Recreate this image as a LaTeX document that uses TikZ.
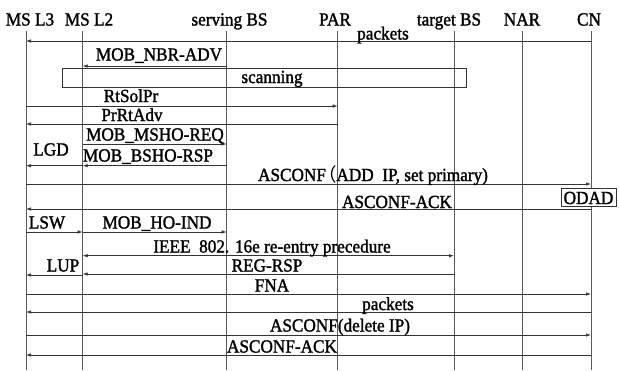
\documentclass[tikz,border=0pt]{standalone}
\usepackage{fontspec}
\setmainfont{Liberation Serif}[FakeBold=1.5,FakeStretch=0.93]
\newfontfamily\cjk{Noto Sans CJK SC}
\usetikzlibrary{arrows.meta}
\begin{document}
\begin{tikzpicture}[x=1pt,y=-1pt,
  font=\fontsize{18.5}{21}\selectfont,
  life/.style={draw=black!65, line width=0.7pt},
  msg/.style={draw=black!80, line width=0.7pt, -{Latex[length=5pt,width=3.5pt]}},
  dmsg/.style={draw=black!80, line width=0.7pt, {Latex[length=5pt,width=3.5pt]}-{Latex[length=5pt,width=3.5pt]}},
  lbl/.style={anchor=base, inner sep=0pt},
  boxed/.style={draw=black!80, line width=0.7pt, inner sep=0pt}]
\useasboundingbox (0,0) rectangle (619,370);
% lifelines
\coordinate (l3) at (26,31);   \coordinate (l3b) at (26,370);
\coordinate (l2) at (82.7,31); \coordinate (l2b) at (82.7,370);
\coordinate (sbs) at (226.7,31); \coordinate (sbsb) at (226.7,370);
\coordinate (par) at (337.7,31); \coordinate (parb) at (337.7,370);
\coordinate (tbs) at (454,31); \coordinate (tbsb) at (454,370);
\coordinate (nar) at (522.7,31); \coordinate (narb) at (522.7,370);
\coordinate (cn) at (591,31); \coordinate (cnb) at (591,370);
\foreach \a/\b in {l3/l3b,l2/l2b,sbs/sbsb,par/parb,tbs/tbsb,nar/narb,cn/cnb}
  \draw[life] (\a) -- (\b);
% headers
\node[lbl] (h1) at (30,25.5) {MS L3};
\node[lbl] (h2) at (89,25.5) {MS L2};
\node[lbl] (h3) at (229.5,25.5) {serving BS};
\node[lbl] (h4) at (335,25.5) {PAR};
\node[lbl] (h5) at (449,25.5) {target BS};
\node[lbl] (h6) at (522,25.5) {NAR};
\node[lbl] (h7) at (589,25.5) {CN};
% scanning box
\node[boxed, minimum width=404pt, minimum height=19pt] (scanbox) at (264,77.5) {};
\node[lbl] (scan) at (272,83) {scanning};
% ODAD box
\node[boxed, minimum width=55pt, minimum height=18pt, fill=white] (odadbox) at (588.5,197) {};
\node[lbl] (odad) at (588.5,204) {ODAD};
% messages
\draw[msg] (cn |- 0,41) -- (l3 |- 0,41);
\node[lbl] (m1) at (383,39.5) {packets};
\draw[msg] (sbs |- 0,66) -- (l2 |- 0,66);
\node[lbl] (m2) at (159,60.5) {MOB\_NBR-ADV};
\draw[msg] (l3 |- 0,106) -- (par |- 0,106);
\node[lbl] (m3) at (131,102) {RtSolPr};
\draw[msg] (par |- 0,124) -- (l3 |- 0,124);
\node[lbl] (m4) at (132,121) {PrRtAdv};
\draw[msg] (l2 |- 0,144) -- (sbs |- 0,144);
\node[lbl] (m5) at (155,140.5) {MOB\_MSHO-REQ};
\draw[msg] (sbs |- 0,165.7) -- (l2 |- 0,165.7);
\node[lbl] (m6) at (148,161.5) {MOB\_BSHO-RSP};
\draw[msg] (l2 |- 0,165.7) -- (l3 |- 0,165.7);
\node[lbl] (m7) at (51,155.5) {LGD};
\draw[msg] (l3 |- 0,184) -- (cn |- 0,184);
\node[lbl] (m8) at (373,181) {ASCONF\kern-7pt{\cjk （}\kern-1pt ADD\ \ IP, set primary)};
\draw[msg] (cn |- 0,209) -- (l3 |- 0,209);
\node[lbl] (m9) at (397,208) {ASCONF-ACK};
\draw[msg] (l3 |- 0,232) -- (l2 |- 0,232);
\node[lbl] (m10) at (47,228.5) {LSW};
\draw[msg] (l2 |- 0,232) -- (sbs |- 0,232);
\node[lbl] (m11) at (157,228.5) {MOB\_HO-IND};
\draw[dmsg] (l2 |- 0,255.7) -- (tbs |- 0,255.7);
\node[lbl] (m12) at (272,252.5) {IEEE\ \ 802. 16e re-entry precedure};
\draw[msg] (tbs |- 0,274) -- (l2 |- 0,274);
\node[lbl] (m13) at (267,271.5) {REG-RSP};
\draw[msg] (l2 |- 0,275) -- (l3 |- 0,275);
\node[lbl] (m14) at (63,271.5) {LUP};
\draw[msg] (l3 |- 0,294) -- (cn |- 0,294);
\node[lbl] (m15) at (272,291.5) {FNA};
\draw[msg] (cn |- 0,312) -- (l3 |- 0,312);
\node[lbl] (m16) at (388,310) {packets};
\draw[msg] (l3 |- 0,335) -- (cn |- 0,335);
\node[lbl] (m17) at (340,331.5) {ASCONF(delete IP)};
\draw[msg] (cn |- 0,355) -- (l3 |- 0,355);
\node[lbl] (m18) at (282,352.5) {ASCONF-ACK};
\end{tikzpicture}
\end{document}
